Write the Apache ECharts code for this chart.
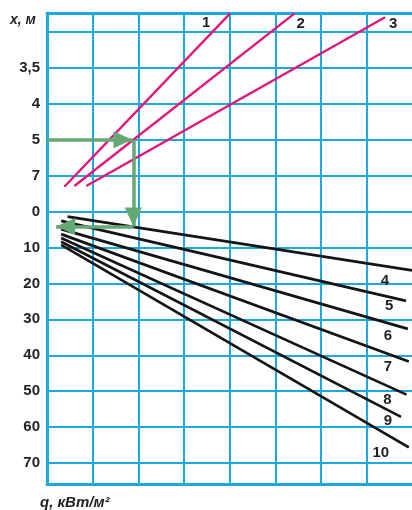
<!DOCTYPE html>
<html>
<head>
<meta charset="utf-8">
<script src="https://cdn.jsdelivr.net/npm/echarts@6/dist/echarts.min.js"></script>
<style>
  html, body { margin: 0; padding: 0; background: #fff; }
  #main { width: 412px; height: 510px; }
</style>
</head>
<body>
<div id="main"></div>
<script type="text/javascript">
// grid rows (0..12) and the labels written next to them
var rowLabels = ['', '3,5', '4', '5', '7', '0', '10', '20', '30', '40', '50', '60', '70'];

// x in grid columns, y in grid rows (row 0 = first line under the frame)
var redNames = ['1', '2', '3'];
var redLines = [
    [[0.38, 4.31], [4.01, -0.52]],
    [[0.60, 4.29], [5.42, -0.52]],
    [[0.86, 4.29], [7.40, -0.41]]
];
var blackNames = ['4', '5', '6', '7', '8', '9', '10'];
var blackLines = [
    [[0.45, 5.14], [7.99, 6.64]],
    [[0.31, 5.26], [7.86, 7.49]],
    [[0.31, 5.49], [7.90, 8.27]],
    [[0.31, 5.63], [7.92, 9.18]],
    [[0.31, 5.74], [7.87, 10.10]],
    [[0.31, 5.84], [7.75, 10.72]],
    [[0.31, 5.93], [7.92, 11.57]]
];
// example read-off: x = 5 -> curve 2 -> curve 4
var arrowPath = [
    [[0, 3.0], [1.87, 3.0]],
    [[1.89, 3.0], [1.89, 5.42]],
    [[1.89, 5.42], [0.20, 5.42]]
];

var BLUE = '#1ca9de';
var GREEN = '#65a874';
var FONT = 'Liberation Sans, Arial, sans-serif';
var HEAD = 19;   // arrow head length, px

// label offsets from the end of each curve, px
var redOffsets = [[-24, 10], [6, 11], [8, 7]];
var blackOffsets = [[-27, 10], [-17, 5], [-20, 7], [-21, 5], [-19, 5], [-13, 4], [-28, 5]];

function curve(name, pts, color, width, offset) {
    return {
        name: name,
        type: 'line',
        xAxisIndex: 0,
        yAxisIndex: 0,
        data: pts,
        showSymbol: false,
        symbol: 'none',
        lineStyle: { color: color, width: width, cap: 'butt' },
        z: 3,
        markPoint: {
            symbol: 'circle',
            symbolSize: 1,
            itemStyle: { color: 'transparent' },
            data: [{
                coord: pts[pts.length - 1],
                label: {
                    show: true,
                    formatter: name,
                    offset: offset,
                    color: '#231f20',
                    fontSize: 15,
                    fontWeight: 'bold',
                    fontFamily: FONT
                }
            }]
        }
    };
}

var series = [];
for (var i = 0; i < redLines.length; i++) {
    series.push(curve(redNames[i], redLines[i], '#e2157d', 2.4, redOffsets[i]));
}
for (var j = 0; j < blackLines.length; j++) {
    series.push(curve(blackNames[j], blackLines[j], '#141414', 2.7, blackOffsets[j]));
}

// arrow shafts
series.push({
    type: 'lines',
    coordinateSystem: 'cartesian2d',
    xAxisIndex: 0,
    yAxisIndex: 0,
    symbol: 'none',
    lineStyle: { color: GREEN, width: 3.5, opacity: 1 },
    z: 5,
    data: arrowPath.map(function (p) { return { coords: p }; })
});

// arrow heads: triangle at the end of each segment, tip on the end point
// (y axis is inverted, so growing rows go down the screen)
var heads = arrowPath.map(function (p) {
    var dx = p[1][0] - p[0][0];
    var dy = p[1][1] - p[0][1];
    var rot, off;
    if (Math.abs(dx) > Math.abs(dy)) {
        rot = dx > 0 ? -90 : 90;
        off = [dx > 0 ? -HEAD / 2 : HEAD / 2, 0];
    } else {
        rot = dy > 0 ? 180 : 0;
        off = [0, dy > 0 ? -HEAD / 2 : HEAD / 2];
    }
    return { value: p[1], symbolRotate: rot, symbolOffset: off };
});
series.push({
    type: 'scatter',
    xAxisIndex: 0,
    yAxisIndex: 0,
    symbol: 'triangle',
    symbolSize: [17, HEAD],
    itemStyle: { color: GREEN, opacity: 1 },
    z: 6,
    data: heads
});

var myChart = echarts.init(document.getElementById('main'), null, { renderer: 'canvas' });

var option = {
    animation: false,
    backgroundColor: '#fff',
    title: [
        { text: 'x, м', left: 10, top: 13, padding: 0,
          textStyle: { fontSize: 14, fontStyle: 'italic', fontWeight: 'bold', color: '#231f20', fontFamily: FONT } },
        { text: 'q, кВт/м²', left: 40, top: 495, padding: 0,
          textStyle: { fontSize: 15, fontStyle: 'italic', fontWeight: 'bold', color: '#231f20', fontFamily: FONT } }
    ],
    grid: [
        { left: 47, right: 0, top: 13, bottom: 26 },   // frame + columns + curves
        { left: 47, right: 0, top: 32, bottom: 47 }    // rows + row labels
    ],
    xAxis: [
        {
            gridIndex: 0, type: 'value', min: 0, max: 7.99, interval: 1, position: 'bottom',
            axisLine: { show: true, onZero: false, lineStyle: { color: BLUE, width: 3 } },
            axisTick: { show: false }, axisLabel: { show: false },
            splitLine: { show: true, showMinLine: false, showMaxLine: false, lineStyle: { color: BLUE, width: 2 } }
        },
        {
            gridIndex: 0, type: 'value', min: 0, max: 7.99, position: 'top',
            axisLine: { show: true, onZero: false, lineStyle: { color: BLUE, width: 3 } },
            axisTick: { show: false }, axisLabel: { show: false }, splitLine: { show: false }
        },
        {
            gridIndex: 1, type: 'value', min: 0, max: 7.99, show: false
        }
    ],
    yAxis: [
        {
            gridIndex: 0, type: 'value', min: -0.53, max: 12.59, inverse: true,
            axisLine: { show: true, onZero: false, lineStyle: { color: BLUE, width: 3 } },
            axisTick: { show: false }, axisLabel: { show: false }, splitLine: { show: false }
        },
        {
            gridIndex: 1, type: 'value', min: 0, max: 12, interval: 1, inverse: true,
            axisLine: { show: false }, axisTick: { show: false },
            axisLabel: {
                margin: 7, fontSize: 15, fontWeight: 'bold', color: '#231f20', fontFamily: FONT,
                formatter: function (v) { return rowLabels[Math.round(v)] || ''; }
            },
            splitLine: { show: true, showMinLine: true, showMaxLine: true, lineStyle: { color: BLUE, width: 2 } }
        }
    ],
    series: series
};

myChart.setOption(option);
</script>
</body>
</html>
